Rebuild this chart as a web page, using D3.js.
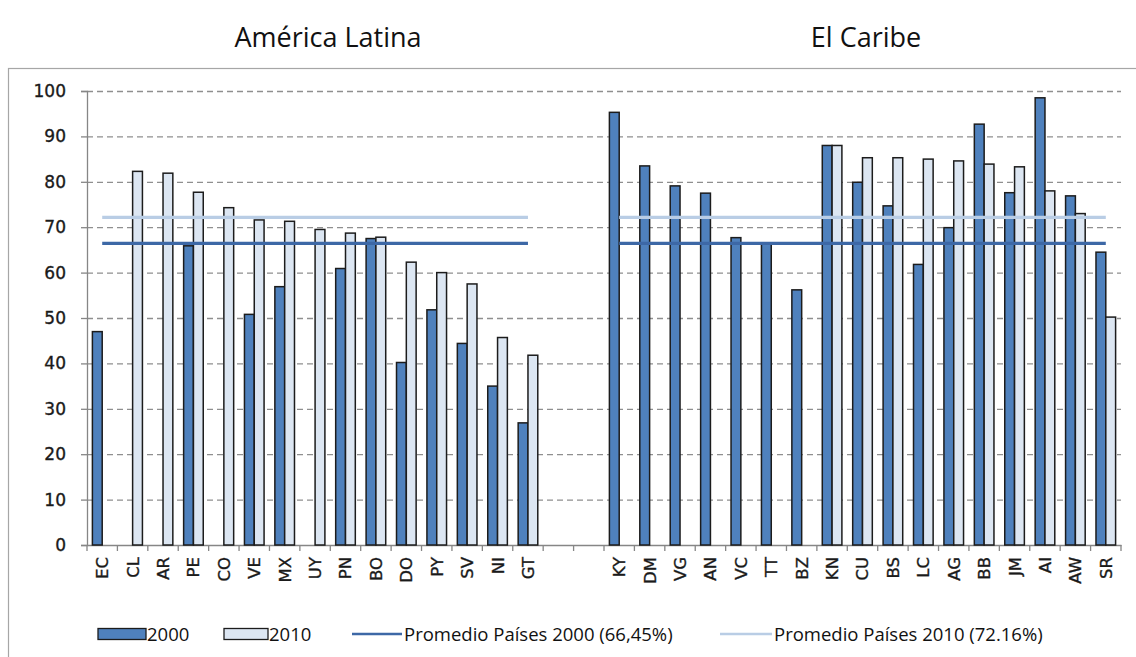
<!DOCTYPE html>
<html><head><meta charset="utf-8">
<script src="https://cdn.jsdelivr.net/npm/d3@7"></script>
<style>
html,body{margin:0;padding:0;background:#fff;}
svg{display:block;}
</style></head>
<body>
<svg id="chart" width="1136" height="657"></svg>
<script>
// ---- data ----
const categoriesLA = ["EC","CL","AR","PE","CO","VE","MX","UY","PN","BO","DO","PY","SV","NI","GT"];
const values2000LA = [47.0, null, null, 65.9, null, 50.8, 56.9, null, 60.9, 67.5, 40.2, 51.8, 44.4, 35.0, 26.9];
const values2010LA = [null, 82.3, 81.9, 77.7, 74.3, 71.6, 71.3, 69.5, 68.7, 67.8, 62.3, 60.0, 57.5, 45.7, 41.8];
const categoriesCB = ["KY","DM","VG","AN","VC","TT","BZ","KN","CU","BS","LC","AG","BB","JM","AI","AW","SR"];
const values2000CB = [95.3, 83.5, 79.1, 77.5, 67.7, 66.3, 56.2, 88.0, 79.9, 74.7, 61.8, 69.9, 92.7, 77.6, 98.5, 76.9, 64.5];
const values2010CB = [null, null, null, null, null, null, null, 88.0, 85.3, 85.3, 85.0, 84.6, 83.9, 83.3, 78.0, 73.0, 50.2];
const gapSlots = ["_g1","_g2"];
const seriesNames = ["2000","2010"];
const average2000 = 66.45;
const average2010 = 72.16;
const yTicks = [0,10,20,30,40,50,60,70,80,90,100];
const groupTitles = ["América Latina","El Caribe"];
const legendLabels = ["2000","2010","Promedio Países 2000 (66,45%)","Promedio Países 2010 (72.16%)"];

// ---- styles ----
const C2000 = "#4f81bd", C2010 = "#dce6f2", CSTROKE = "#1c1c1c";
const CAVG2000 = "#3d68a6", CAVG2010 = "#b9cde5";

const svg = d3.select("#chart");
const allCats = [...categoriesLA, ...gapSlots, ...categoriesCB];

const x = d3.scaleBand().domain(allCats).range([87, 1121]).padding(0);
const inner = d3.scaleBand().domain(seriesNames).range([0, x.bandwidth()]).paddingInner(0).paddingOuter(0.55);
const y = d3.scaleLinear().domain([0, 100]).range([545, 91]);

// frame
svg.append("rect").attr("x", 8.5).attr("y", 68.5).attr("width", 1140).attr("height", 600)
  .attr("fill", "none").attr("stroke", "#a6a6a6").attr("stroke-width", 1.2);

// titles
const titleCenters = [328, 866];
svg.selectAll("text.title").data(groupTitles).enter().append("text")
  .attr("class","title")
  .attr("x", (d,i)=> titleCenters[i])
  .attr("y", 47)
  .attr("text-anchor","middle")
  .attr("font-family","'Open Sans', sans-serif")
  .attr("font-size", 27)
  .attr("fill","#111")
  .text(d=>d);

// gridlines
svg.append("g").selectAll("line").data(yTicks.filter(t=>t>0)).enter().append("line")
  .attr("x1", 87).attr("x2", 1121)
  .attr("y1", d=>y(d)+0.5).attr("y2", d=>y(d)+0.5)
  .attr("stroke","#8f8f8f").attr("stroke-width",1.3).attr("stroke-dasharray","6,4");

// y axis
const yAxis = svg.append("g").attr("transform","translate(87,0)")
  .call(d3.axisLeft(y).tickValues(yTicks).tickSize(6).tickPadding(15));
yAxis.select(".domain").attr("stroke","#868686").attr("stroke-width",1.3);
yAxis.selectAll(".tick line").attr("stroke","#868686").attr("stroke-width",1.3);
yAxis.selectAll(".tick text").attr("font-family","'DejaVu Sans', sans-serif")
  .attr("font-size",17).attr("fill","#1a1a1a")
  .attr("stroke","#1a1a1a").attr("stroke-width",0.35);

// x axis
const xAxis = svg.append("g").attr("transform","translate(0,545)")
  .call(d3.axisBottom(x).tickSize(0).tickFormat(d=> d.startsWith("_") ? "" : d));
xAxis.select(".domain").attr("stroke","#868686").attr("stroke-width",1.3);
xAxis.selectAll(".tick text")
  .attr("font-family","'DejaVu Sans', sans-serif").attr("font-size",16.5)
  .attr("fill","#1a1a1a").attr("stroke","#1a1a1a").attr("stroke-width",0.35)
  .attr("transform","rotate(-90)")
  .attr("text-anchor","end").attr("dy","0.36em").attr("dx",0)
  .attr("x",-12).attr("y",0);
// boundary ticks
const edges = allCats.map(c=>x(c)).concat([x(allCats[allCats.length-1]) + x.bandwidth()]);
svg.append("g").selectAll("line").data(edges).enter().append("line")
  .attr("x1",d=>d).attr("x2",d=>d).attr("y1",545).attr("y2",551)
  .attr("stroke","#868686").attr("stroke-width",1.3);

// bars
const rows = [];
categoriesLA.forEach((c,i)=>{ rows.push({cat:c, s:"2000", v:values2000LA[i]}); rows.push({cat:c, s:"2010", v:values2010LA[i]}); });
categoriesCB.forEach((c,i)=>{ rows.push({cat:c, s:"2000", v:values2000CB[i]}); rows.push({cat:c, s:"2010", v:values2010CB[i]}); });
svg.append("g").selectAll("rect").data(rows.filter(r=>r.v!=null)).enter().append("rect")
  .attr("x", d=> x(d.cat) + inner(d.s))
  .attr("width", inner.bandwidth())
  .attr("y", d=> y(d.v))
  .attr("height", d=> y(0) - y(d.v))
  .attr("fill", d=> d.s==="2000" ? C2000 : C2010)
  .attr("stroke", CSTROKE).attr("stroke-width", 1.5);

// average lines
const groups = [categoriesLA, categoriesCB];
const avgs = [{v:average2010, c:CAVG2010},{v:average2000, c:CAVG2000}];
groups.forEach(g=>{
  const x1 = x(g[0]) + x.bandwidth()/2, x2 = x(g[g.length-1]) + x.bandwidth()/2;
  avgs.forEach(a=>{
    svg.append("line").attr("x1",x1).attr("x2",x2).attr("y1",y(a.v)).attr("y2",y(a.v))
      .attr("stroke",a.c).attr("stroke-width",3.2);
  });
});

// legend
const lg = svg.append("g").attr("font-family","'Open Sans', sans-serif").attr("font-size",18.5).attr("fill","#111");
const legendY = 634;
lg.append("rect").attr("x",98).attr("y",legendY-5.5).attr("width",48).attr("height",11)
  .attr("fill",C2000).attr("stroke",CSTROKE).attr("stroke-width",1.3);
lg.append("text").attr("x",147).attr("y",legendY).attr("dy","0.36em").text(legendLabels[0]);
lg.append("rect").attr("x",224).attr("y",legendY-5.5).attr("width",44).attr("height",11)
  .attr("fill",C2010).attr("stroke",CSTROKE).attr("stroke-width",1.3);
lg.append("text").attr("x",269).attr("y",legendY).attr("dy","0.36em").text(legendLabels[1]);
lg.append("line").attr("x1",352).attr("x2",402).attr("y1",legendY).attr("y2",legendY)
  .attr("stroke",CAVG2000).attr("stroke-width",2.5);
lg.append("text").attr("x",404).attr("y",legendY).attr("dy","0.36em").text(legendLabels[2]);
lg.append("line").attr("x1",720).attr("x2",772).attr("y1",legendY).attr("y2",legendY)
  .attr("stroke",CAVG2010).attr("stroke-width",2.5);
lg.append("text").attr("x",774).attr("y",legendY).attr("dy","0.36em").text(legendLabels[3]);
</script>
</body></html>
